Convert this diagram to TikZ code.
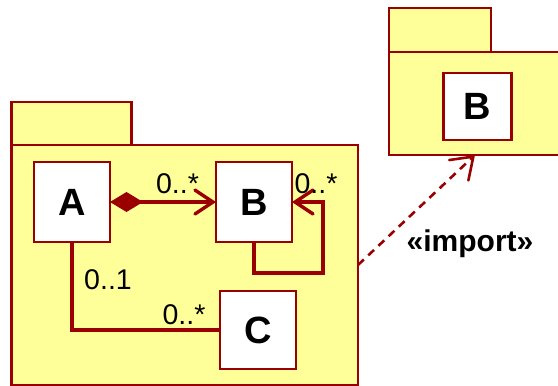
\documentclass[tikz,border=0pt]{standalone}
\usepackage{fontspec}
\setmainfont{Liberation Sans}
\usetikzlibrary{arrows.meta}
\definecolor{umlred}{RGB}{155,0,0}
\definecolor{pkgyellow}{RGB}{255,255,153}
\tikzset{
  pkgpart/.style={draw=umlred, fill=pkgyellow, line width=2.3pt, inner sep=0pt, outer sep=0pt},
  classbox/.style={draw=umlred, fill=white, line width=2.3pt, inner sep=0pt, outer sep=0pt,
    font=\fontsize{38}{40}\selectfont\bfseries},
  assoc/.style={draw=umlred, line width=3.4pt},
  mult/.style={anchor=base, inner sep=0pt, font=\fontsize{28.5}{30}\selectfont},
  stereo/.style={anchor=base, inner sep=0pt, font=\fontsize{30}{32}\selectfont\bfseries},
  openhead/.tip={Straight Barb[length=18pt, width=24pt, line cap=round]},
}
\begin{document}
\begin{tikzpicture}[x=1pt, y=-1pt]
\useasboundingbox (0,0) rectangle (558,386);
% left package
\node[pkgpart, minimum width=120pt, minimum height=43pt] (ltab) at (71.5,123.5) {};
\node[pkgpart, minimum width=346.5pt, minimum height=240pt] (lbody) at (184.75,265) {};
% right package
\node[pkgpart, minimum width=102pt, minimum height=44pt] (rtab) at (440,30) {};
\node[pkgpart, minimum width=172pt, minimum height=103pt] (rbody) at (475,103.5) {};
% classes
\node[classbox, minimum width=76pt, minimum height=80pt] (A) at (72,202) {A};
\node[classbox, minimum width=76pt, minimum height=80pt] (B) at (254,202) {B};
\node[classbox, minimum width=76pt, minimum height=78pt] (C) at (258,330) {C};
\node[classbox, minimum width=68pt, minimum height=67pt] (B2) at (477.5,106.5) {B};
% composition A -> B
\draw[assoc, {Diamond[length=33pt, width=20pt, fill=umlred]}-{openhead}] (A.east) -- (B.west);
% self association on B
\draw[assoc, -{openhead}] (B.south) -- ++(0,31) -| ([xshift=31pt]B.east) -- (B.east);
% A -- C
\draw[assoc] (A.south) |- (C.west);
% import dependency
\draw[draw=umlred, line width=2.6pt, dash pattern=on 8pt off 6pt, -{Straight Barb[length=20pt, width=28pt, line cap=round]}]
  (lbody.east) -- (rbody.south);
% labels
\node[mult] (m1) at (177.5,193) {0..*};
\node[mult] (m2) at (316,193) {0..*};
\node[mult] (m3) at (108,289) {0..1};
\node[mult] (m4) at (184,324) {0..*};
\node[stereo] (imp) at (470,251.5) {«import»};
\end{tikzpicture}
\end{document}
